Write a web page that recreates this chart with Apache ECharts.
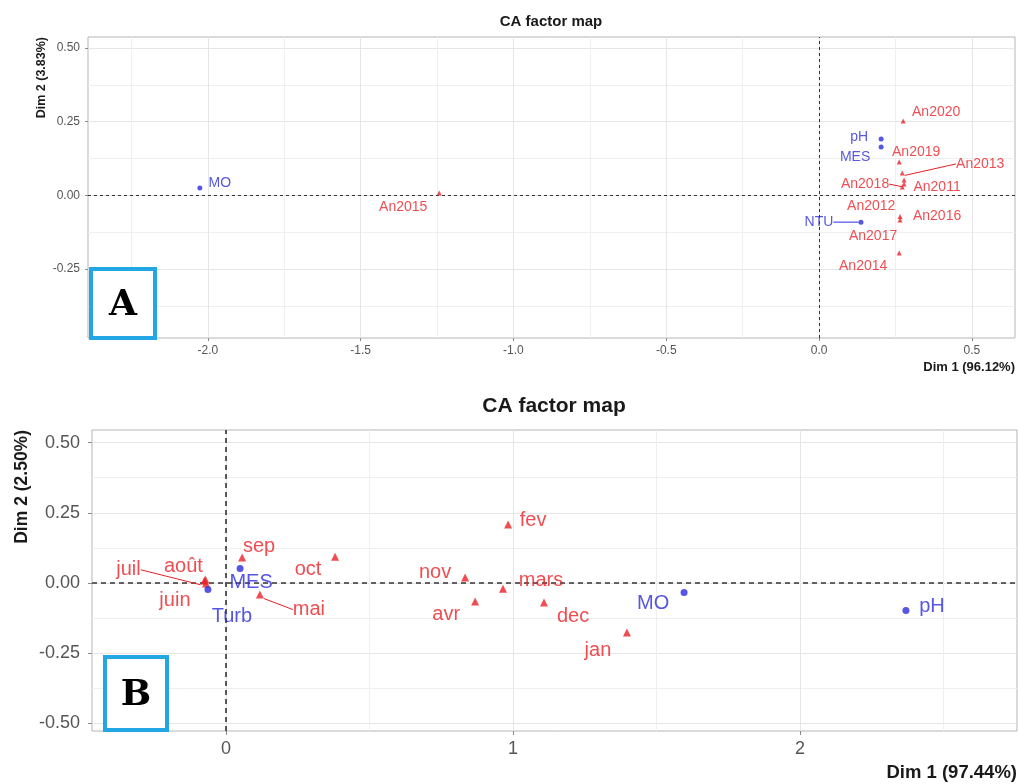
<!DOCTYPE html>
<html><head><meta charset="utf-8">
<script src="https://cdn.jsdelivr.net/npm/echarts@6/dist/echarts.min.js"></script>
<style>html,body{margin:0;padding:0;background:#fff}#c{width:1019px;height:784px}</style>
</head><body><div id="c"></div>
<script>
// ---------- Panel A data ----------
const yearNames = ['An2011','An2012','An2013','An2014','An2015','An2016','An2017','An2018','An2019','An2020'];
const yearDim1  = [0.278, 0.272, 0.272, 0.262, -1.243, 0.265, 0.265, 0.278, 0.262, 0.275];
const yearDim2  = [0.052, 0.028, 0.076, -0.196, 0.008, -0.072, -0.084, 0.038, 0.113, 0.252];
const varNamesA = ['MO','pH','MES','NTU'];
const varDim1A  = [-2.026, 0.203, 0.203, 0.137];
const varDim2A  = [0.025, 0.191, 0.164, -0.091];
const ticksAx = [-2, -1.5, -1, -0.5, 0, 0.5];
const minorAx = [-2.25, -1.75, -1.25, -0.75, -0.25, 0.25];
const ticksAy = [-0.25, 0, 0.25, 0.5];
const minorAy = [-0.375, -0.125, 0.125, 0.375];

// ---------- Panel B data ----------
const monthNames = ['jan','fev','mars','avr','mai','juin','juil','août','sep','oct','nov','dec'];
const monthDim1  = [1.397, 0.983, 0.965, 0.868, 0.118, -0.070, -0.075, -0.072, 0.056, 0.380, 0.833, 1.108];
const monthDim2  = [-0.176, 0.208, -0.020, -0.066, -0.041, -0.002, 0.008, 0.013, 0.091, 0.094, 0.020, -0.069];
const varNamesB  = ['MES','Turb','MO','pH'];
const varDim1B   = [0.049, -0.063, 1.596, 2.369];
const varDim2B   = [0.052, -0.023, -0.034, -0.098];
const ticksBx = [0, 1, 2];
const minorBx = [0.5, 1.5, 2.5];
const ticksBy = [-0.5, -0.25, 0, 0.25, 0.5];
const minorBy = [-0.375, -0.125, 0.125, 0.375];

// ---------- label placement (pixel offsets of label centre from its point) ----------
const yearLabelOff = [[33,7],[-31,19],[78,-9],[-36,13],[-36,14],[37,0],[-27,16],[-39,0],[17,-10],[33,-9]];
const varALabelOff = [[20,-5],[-22,-2],[-26,10],[-42,0]];
const monthLabelOff = [[-29,18],[25,-4],[38,-8],[-29,13],[49,15],[-31,17],[-76,-11],[-22,-13],[17,-11],[-27,13],[-30,-5],[29,14]];
const varBLabelOff = [[11,14],[24,27],[-31,11],[26,-4]];
const withLine = ['An2013','An2018','NTU','mai','juil'];

const RED = '#ec2027', BLUE = '#2c2cdc';
const FONT = '"Liberation Sans", Arial, sans-serif';

function pts(names, d1, d2) {
  return names.map((n, i) => ({ name: n, value: [d1[i], d2[i]], labelLine: { show: withLine.indexOf(n) >= 0 } }));
}
function scatter(names, d1, d2, off, xi, yi, color, symbol, size, fs) {
  return {
    type: 'scatter', xAxisIndex: xi, yAxisIndex: yi, symbol: symbol, symbolSize: size,
    itemStyle: { color: color }, data: pts(names, d1, d2), silent: true, z: 5,
    label: { show: true, position: 'inside', formatter: '{b}', color: color, fontSize: fs, fontFamily: FONT,
             textBorderWidth: 0, textBorderColor: 'transparent' },
    labelLine: { lineStyle: { width: 1, color: color } },
    labelLayout: function (p) { const o = off[p.dataIndex]; return { dx: o[0], dy: o[1] }; }
  };
}
function zeroLines(xi, yi, w, dash) {
  return {
    type: 'scatter', xAxisIndex: xi, yAxisIndex: yi, data: [], silent: true,
    markLine: { silent: true, symbol: ['none', 'none'], label: { show: false },
      lineStyle: { type: dash, color: '#333', width: w },
      data: [{ xAxis: 0 }, { yAxis: 0 }] }
  };
}
function majorAxis(grid, pos, min, max, ticks, fmt, fs, margin, tickLen) {
  return { type: 'value', gridIndex: grid, position: pos, min: min, max: max,
    axisLine: { show: false, onZero: false },
    axisTick: { show: true, customValues: ticks, length: tickLen, lineStyle: { color: '#8a8a8a' } },
    axisLabel: { customValues: ticks, formatter: fmt, color: '#555', fontSize: fs, fontFamily: FONT, margin: margin },
    splitLine: { show: true, lineStyle: { color: '#e6e6e6', width: 1 } } };
}
function minorAxis(grid, pos, min, max, ticks) {
  return { type: 'value', gridIndex: grid, position: pos, min: min, max: max,
    axisLine: { show: false, onZero: false },
    axisTick: { show: false, customValues: ticks },
    axisLabel: { show: false, customValues: ticks },
    splitLine: { show: true, lineStyle: { color: '#efefef', width: 1 } } };
}

const AxMin = -2.392, AxMax = 0.641, AyMin = -0.484, AyMax = 0.537;
const BxMin = -0.467, BxMax = 2.756, ByMin = -0.527, ByMax = 0.545;

const chart = echarts.init(document.getElementById('c'), null, { renderer: 'canvas' });
chart.setOption({
  animation: false,
  backgroundColor: '#fff',
  grid: [
    { left: 88, right: 4, top: 37, bottom: 446, show: true, borderColor: '#b5b5b5', borderWidth: 1, backgroundColor: '#fff' },
    { left: 92, right: 2, top: 430, bottom: 53, show: true, borderColor: '#b5b5b5', borderWidth: 1, backgroundColor: '#fff' }
  ],
  xAxis: [
    majorAxis(0, 'bottom', AxMin, AxMax, ticksAx, v => v.toFixed(1), 12, 7, 3),
    minorAxis(0, 'top', AxMin, AxMax, minorAx),
    majorAxis(1, 'bottom', BxMin, BxMax, ticksBx, v => v.toFixed(0), 18, 9, 4),
    minorAxis(1, 'top', BxMin, BxMax, minorBx)
  ],
  yAxis: [
    majorAxis(0, 'left', AyMin, AyMax, ticksAy, v => v.toFixed(2), 12, 8, 3),
    minorAxis(0, 'right', AyMin, AyMax, minorAy),
    majorAxis(1, 'left', ByMin, ByMax, ticksBy, v => v.toFixed(2), 18, 12, 4),
    minorAxis(1, 'right', ByMin, ByMax, minorBy)
  ],
  series: [
    zeroLines(0, 0, 1, [3, 3]),
    scatter(yearNames, yearDim1, yearDim2, yearLabelOff, 0, 0, RED, 'triangle', 5, 14),
    scatter(varNamesA, varDim1A, varDim2A, varALabelOff, 0, 0, BLUE, 'circle', 5, 14),
    zeroLines(2, 2, 1.6, [5, 4]),
    scatter(monthNames, monthDim1, monthDim2, monthLabelOff, 2, 2, RED, 'triangle', 8, 20),
    scatter(varNamesB, varDim1B, varDim2B, varBLabelOff, 2, 2, BLUE, 'circle', 7, 20)
  ],
  graphic: [
    { type: 'text', x: 551, y: 22, z: 10, style: { text: 'CA factor map', font: 'bold 15px ' + FONT, fill: '#1a1a1a', textAlign: 'center', textVerticalAlign: 'middle' } },
    { type: 'text', x: 1015, y: 367, z: 10, style: { text: 'Dim 1 (96.12%)', font: 'bold 13px ' + FONT, fill: '#1a1a1a', textAlign: 'right', textVerticalAlign: 'middle' } },
    { type: 'text', x: 42, y: 37, rotation: Math.PI / 2, z: 10, style: { text: 'Dim 2 (3.83%)', font: 'bold 12.5px ' + FONT, fill: '#1a1a1a', textAlign: 'right', textVerticalAlign: 'middle' } },
    { type: 'text', x: 554, y: 406, z: 10, style: { text: 'CA factor map', font: 'bold 21px ' + FONT, fill: '#1a1a1a', textAlign: 'center', textVerticalAlign: 'middle' } },
    { type: 'text', x: 1017, y: 773, z: 10, style: { text: 'Dim 1 (97.44%)', font: 'bold 18.5px ' + FONT, fill: '#1a1a1a', textAlign: 'right', textVerticalAlign: 'middle' } },
    { type: 'text', x: 22, y: 430, rotation: Math.PI / 2, z: 10, style: { text: 'Dim 2 (2.50%)', font: 'bold 17.5px ' + FONT, fill: '#1a1a1a', textAlign: 'right', textVerticalAlign: 'middle' } },
    { type: 'rect', z: 20, shape: { x: 91, y: 269, width: 64, height: 69 }, style: { fill: '#fff', stroke: '#22a7e4', lineWidth: 4 } },
    { type: 'text', x: 123, y: 306, z: 21, style: { text: 'A', font: 'bold 36px "DejaVu Serif", serif', fill: '#000', textAlign: 'center', textVerticalAlign: 'middle' } },
    { type: 'rect', z: 20, shape: { x: 105, y: 657, width: 62, height: 73 }, style: { fill: '#fff', stroke: '#22a7e4', lineWidth: 4 } },
    { type: 'text', x: 136, y: 696, z: 21, style: { text: 'B', font: 'bold 36px "DejaVu Serif", serif', fill: '#000', textAlign: 'center', textVerticalAlign: 'middle' } }
  ]
});
</script>
</body></html>
